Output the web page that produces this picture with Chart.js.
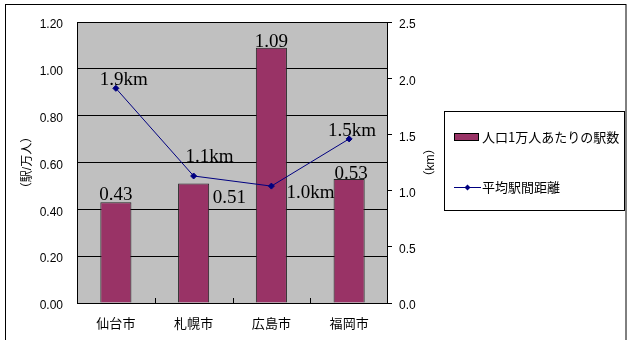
<!DOCTYPE html>
<html>
<head>
<meta charset="utf-8">
<script src="https://cdn.jsdelivr.net/npm/chart.js@4"></script>
<style>
  body { margin: 0; background: #fff; }
</style>
</head>
<body>
<canvas id="chart" width="629" height="340"></canvas>
<script>
// Chart data
const cities = ["仙台市", "札幌市", "広島市", "福岡市"];
const stationsPer10k = [0.43, 0.51, 1.09, 0.53];
const avgDistanceKm = [1.91, 1.13, 1.04, 1.46];
const distanceLabels = ["1.9km", "1.1km", "1.0km", "1.5km"];

// Label placement for the value labels (align, dx, dy)
const barLabelPlace = [["center", 0, -2], ["left", 19, 19], ["center", 0, -1], ["center", 2, 0]];
const lineLabelPlace = [["center", 8, -3], ["center", 16, -14], ["left", 15, 12], ["center", 3, -3]];

const FONT = "'Liberation Sans', 'Noto Sans CJK JP', sans-serif";
const CJK = "'Noto Sans CJK JP', sans-serif";

// Frame, plot background, border, labels, legend
const decorations = {
  id: "decorations",
  beforeDraw(chart) {
    const { ctx, chartArea: a } = chart;
    ctx.save();
    ctx.fillStyle = "#fff";
    ctx.fillRect(0, 0, chart.width, chart.height);
    ctx.strokeStyle = "#000";
    ctx.lineWidth = 1;
    ctx.strokeRect(5.5, 4.5, 620.5, 340);
    ctx.fillStyle = "#c0c0c0";
    ctx.fillRect(a.left, a.top, a.right - a.left, a.bottom - a.top);
    ctx.restore();
  },
  afterDatasetsDraw(chart) {
    const { ctx, chartArea: a } = chart;
    const x = chart.scales.x;
    ctx.save();
    ctx.strokeStyle = "#000";
    ctx.lineWidth = 1;
    ctx.strokeRect(a.left + 0.5, a.top + 0.5, a.right - a.left - 1, a.bottom - a.top);
    // small inner tick marks between categories
    ctx.beginPath();
    for (let i = 1; i < cities.length; i++) {
      const px = Math.round(x.getPixelForValue(i - 0.5)) + 0.5;
      ctx.moveTo(px, a.bottom);
      ctx.lineTo(px, a.bottom - 5);
    }
    ctx.stroke();

    // value labels
    ctx.fillStyle = "#000";
    ctx.font = "19px 'Liberation Serif', serif";
    ctx.textBaseline = "alphabetic";
    chart.getDatasetMeta(0).data.forEach((bar, i) => {
      const [align, dx, dy] = barLabelPlace[i];
      ctx.textAlign = align;
      ctx.fillText(stationsPer10k[i].toFixed(2), bar.x + dx, bar.y + dy);
    });
    chart.getDatasetMeta(1).data.forEach((pt, i) => {
      const [align, dx, dy] = lineLabelPlace[i];
      ctx.textAlign = align;
      ctx.fillText(distanceLabels[i], pt.x + dx, pt.y + dy);
    });
    ctx.restore();
  },
  afterDraw(chart) {
    const { ctx, chartArea: a } = chart;
    ctx.save();
    // right axis title, rotated like the left one
    ctx.fillStyle = "#000";
    ctx.font = "12px " + FONT;
    ctx.translate(431, (a.top + a.bottom) / 2);
    ctx.rotate(-Math.PI / 2);
    ctx.textAlign = "center";
    ctx.textBaseline = "middle";
    ctx.fillText("（km）", 0, 0);
    ctx.restore();

    // legend
    const ds = chart.data.datasets;
    ctx.save();
    ctx.strokeStyle = "#000";
    ctx.lineWidth = 1;
    ctx.strokeRect(444.5, 111.5, 180, 99);
    ctx.fillStyle = ds[0].backgroundColor;
    ctx.fillRect(454, 133, 25, 8);
    ctx.strokeRect(454.5, 133.5, 24, 7);
    ctx.strokeStyle = ds[1].borderColor;
    ctx.beginPath();
    ctx.moveTo(454, 187.5);
    ctx.lineTo(481, 187.5);
    ctx.stroke();
    ctx.fillStyle = ds[1].borderColor;
    ctx.beginPath();
    ctx.moveTo(467.5, 184.5);
    ctx.lineTo(470.5, 187.5);
    ctx.lineTo(467.5, 190.5);
    ctx.lineTo(464.5, 187.5);
    ctx.closePath();
    ctx.fill();
    ctx.fillStyle = "#000";
    ctx.font = "13px " + CJK;
    ctx.textAlign = "left";
    ctx.textBaseline = "middle";
    ctx.fillText(ds[0].label, 482, 137);
    ctx.fillText(ds[1].label, 482, 187);
    ctx.restore();
  }
};

const ctx = document.getElementById("chart").getContext("2d");
const chart = new Chart(ctx, {
  data: {
    labels: cities,
    datasets: [
      {
        type: "bar",
        label: "人口1万人あたりの駅数",
        data: stationsPer10k,
        backgroundColor: "#993366",
        borderColor: "#222",
        borderWidth: 1,
        barPercentage: 0.4,
        categoryPercentage: 1,
        yAxisID: "y",
        order: 1,
      },
      {
        type: "line",
        label: "平均駅間距離",
        data: avgDistanceKm,
        borderColor: "#000080",
        backgroundColor: "#000080",
        borderWidth: 1,
        pointStyle: "rectRot",
        pointRadius: 3,
        yAxisID: "y2",
        order: 0,
      },
    ],
  },
  options: {
    responsive: false,
    animation: false,
    layout: { padding: { top: 22, left: 0, right: 0, bottom: 0 } },
    plugins: {
      legend: { display: false },
      tooltip: { enabled: false },
    },
    scales: {
      x: {
        grid: { display: false },
        border: { display: false },
        ticks: { color: "#000", font: { family: CJK, size: 13 }, padding: 4 },
        afterFit: (s) => { s.height = 37; },
      },
      y: {
        position: "left",
        min: 0,
        max: 1.2,
        ticks: {
          stepSize: 0.2,
          color: "#000",
          font: { family: FONT, size: 12 },
          padding: 14,
          labelOffset: 3,
          callback: (v) => v.toFixed(2),
        },
        grid: { color: "#000", lineWidth: 1, drawTicks: false },
        border: { display: false },
        title: {
          display: true,
          text: "（駅/万人）",
          color: "#000",
          font: { family: FONT, size: 12 },
          padding: { top: 20, bottom: 0 },
        },
        afterFit: (s) => { s.width = 77; },
      },
      y2: {
        position: "right",
        min: 0,
        max: 2.5,
        ticks: {
          stepSize: 0.5,
          color: "#000",
          font: { family: FONT, size: 12 },
          padding: 7,
          labelOffset: 3,
          callback: (v) => v.toFixed(1),
        },
        grid: { drawOnChartArea: false, color: "#000", tickLength: 4 },
        border: { display: false },
        afterFit: (s) => { s.width = 241; },
      },
    },
  },
  plugins: [decorations],
});
</script>
</body>
</html>
